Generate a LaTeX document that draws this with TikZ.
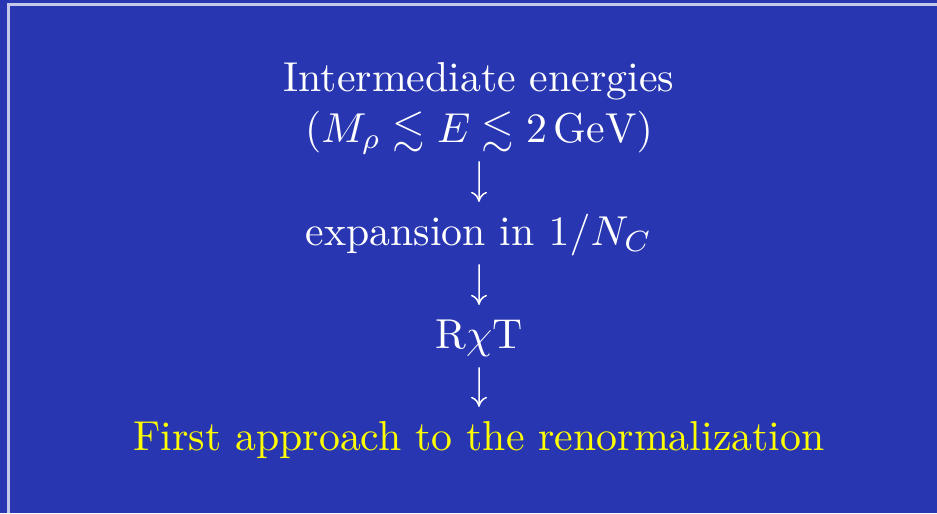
\documentclass[tikz,border=0pt]{standalone}
\usepackage{amsmath}
\usepackage{amssymb}
\usepackage{fontspec}
\usepackage{xcolor}
\usepackage{tikz}
\usetikzlibrary{arrows.meta, positioning}
\definecolor{slidebg}{HTML}{2836B1}
\definecolor{framecol}{HTML}{C5C9E9}
\definecolor{highlight}{HTML}{FFFF00}

\tikzset{
    stage/.style={text=white, font=\normalsize, inner sep=0pt, anchor=base, text height=0.75em, text depth=0.25em, scale=2.488, transform shape},
    flow/.style={draw=white, line width=0.9pt, -{Computer Modern Rightarrow[length=6pt, width=9.5pt]}, shorten <=4.8pt, shorten >=6.5pt}
}

\begin{document}
\begin{tikzpicture}[x=0.5952pt, y=-0.5952pt]
    % Slide background and frame
    \useasboundingbox (0,0) rectangle (937,513);
    \fill[slidebg] (0,0) rectangle (937,513);
    \draw[framecol, line width=1.2pt] (8.5,513) -- (8.5,4.5) -- (937,4.5);

    % Stages
    \node[stage] (energy) at (479,91) {Intermediate energies};
    \node[stage] (range) at (479,142) {$(M_\rho \lesssim E \lesssim 2\,\mathrm{GeV})$};
    \node[stage] (expand) at (479,245) {expansion in $1/N_C$};
    \node[stage] (rchit) at (479,348) {R$\chi$T};
    \node[stage, text=highlight] (renorm) at (479,450) {First approach to the renormalization};

    % Arrows between stages
    \draw[flow] (range) -- (expand);
    \draw[flow] (expand) -- (rchit);
    \draw[flow] (rchit) -- (renorm);
\end{tikzpicture}
\end{document}
